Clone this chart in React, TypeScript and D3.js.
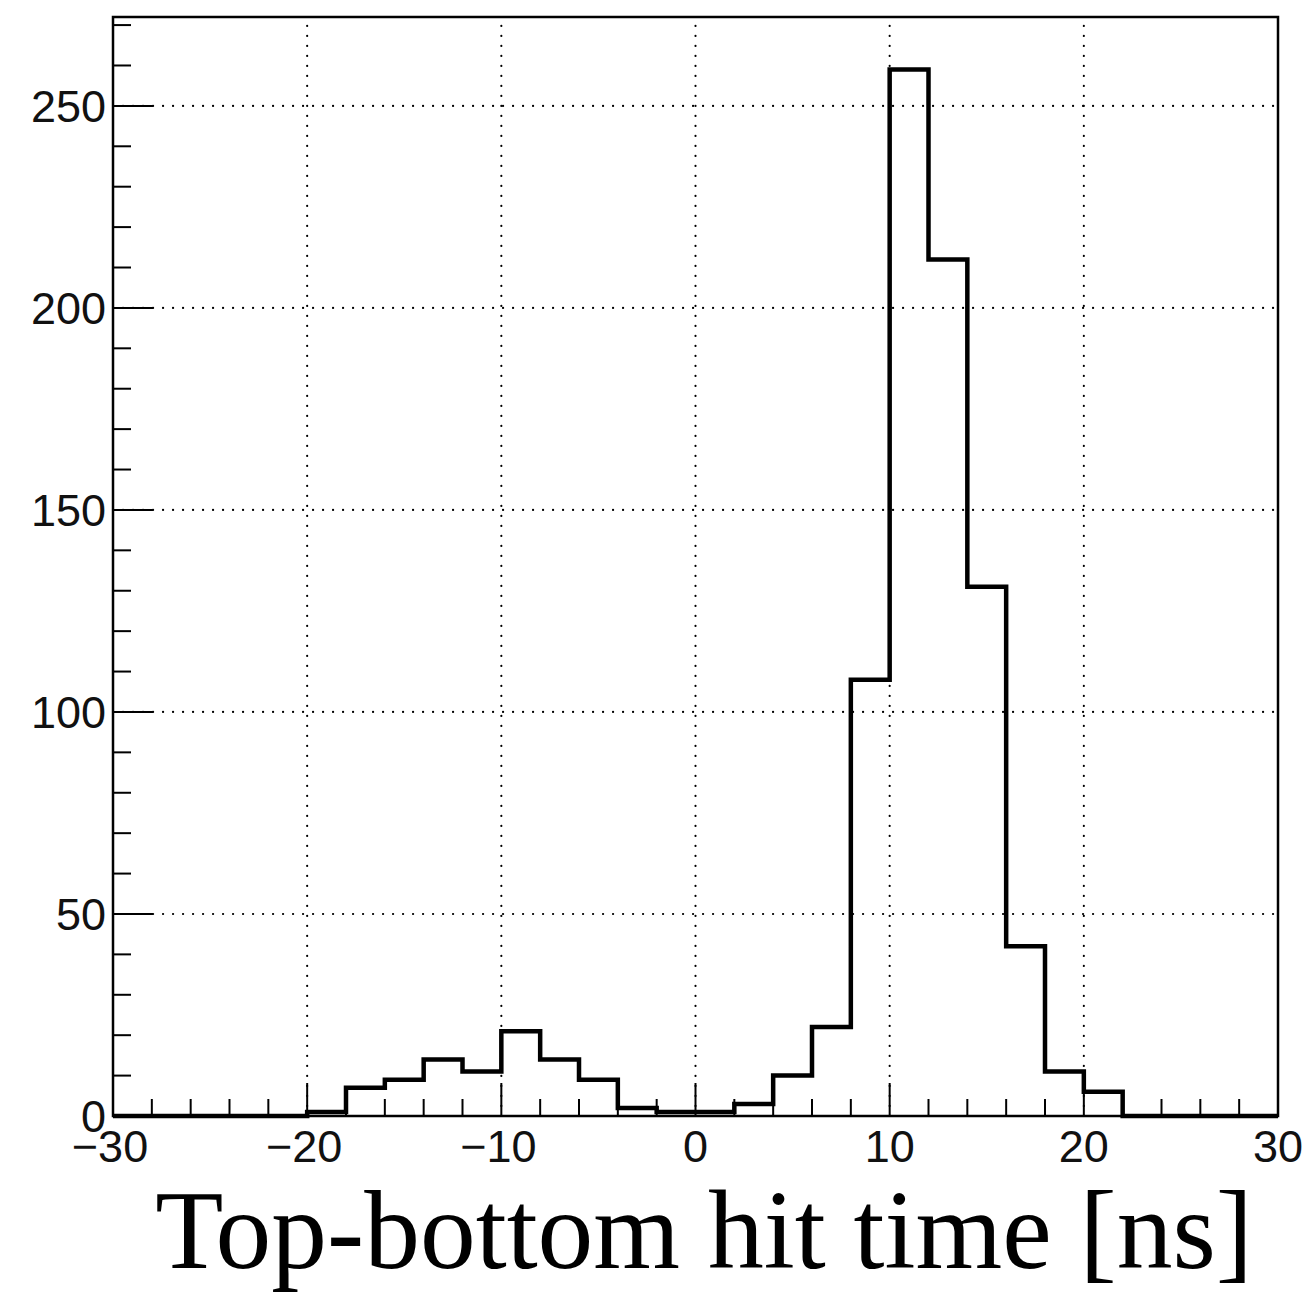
import React from "react";
import * as d3 from "d3";

const binEdgesLow: number[] = [
  -30, -28, -26, -24, -22, -20, -18, -16, -14, -12, -10, -8, -6, -4, -2,
  0, 2, 4, 6, 8, 10, 12, 14, 16, 18, 20, 22, 24, 26, 28,
];
const binCounts: number[] = [
  0, 0, 0, 0, 0, 1, 7, 9, 14, 11, 21, 14, 9, 2, 1,
  1, 3, 10, 22, 108, 259, 212, 131, 42, 11, 6, 0, 0, 0, 0,
];
const binWidth = 2;
const xMajorTicks: number[] = [-30, -20, -10, 0, 10, 20, 30];
const yMajorTicks: number[] = [0, 50, 100, 150, 200, 250];
const xAxisTitle = "Top-bottom hit time [ns]";

const W = 1303;
const H = 1300;
const left = 113;
const right = 1278;
const top = 17;
const bottom = 1116;

export default function App() {
  const x = d3.scaleLinear().domain([-30, 30]).range([left, right]);
  const y = d3.scaleLinear().domain([0, 272]).range([bottom, top]);

  const xMinor = d3.range(-30, 30.001, 2).filter((v) => !xMajorTicks.includes(v));
  const yMinor = d3.range(0, 272, 10).filter((v) => !yMajorTicks.includes(v));

  const pts: [number, number][] = [];
  pts.push([binEdgesLow[0], 0]);
  binEdgesLow.forEach((lo, i) => {
    pts.push([lo, binCounts[i]]);
    pts.push([lo + binWidth, binCounts[i]]);
  });
  pts.push([binEdgesLow[binEdgesLow.length - 1] + binWidth, 0]);
  const line = d3
    .line<[number, number]>()
    .x((d) => x(d[0]))
    .y((d) => y(d[1]));

  const fmt = (v: number) => (v < 0 ? "\u2212" + Math.abs(v) : String(v));
  const labelFont = "'Liberation Sans', Arial, Helvetica, sans-serif";

  return (
    <svg
      width={W}
      height={H}
      style={{ position: "absolute", left: 0, top: 0, background: "#fff" }}
    >
      <rect x={0} y={0} width={W} height={H} fill="#fff" />
      <g stroke="#000" strokeWidth={2.2} strokeDasharray="0.1 9.9" strokeLinecap="round">
        {xMajorTicks
          .filter((v) => v > -30 && v < 30)
          .map((v) => (
            <line key={"gx" + v} x1={x(v)} x2={x(v)} y1={bottom} y2={top} />
          ))}
        {yMajorTicks
          .filter((v) => v > 0)
          .map((v) => (
            <line key={"gy" + v} x1={left} x2={right} y1={y(v)} y2={y(v)} />
          ))}
      </g>
      <g stroke="#000" strokeWidth={2}>
        {yMajorTicks.map((v) => (
          <line key={"ym" + v} x1={left} x2={left + 40} y1={y(v)} y2={y(v)} />
        ))}
        {yMinor.map((v) => (
          <line key={"yn" + v} x1={left} x2={left + 18} y1={y(v)} y2={y(v)} />
        ))}
        {xMajorTicks.map((v) => (
          <line key={"xm" + v} x1={x(v)} x2={x(v)} y1={bottom} y2={bottom - 33} />
        ))}
        {xMinor.map((v) => (
          <line key={"xn" + v} x1={x(v)} x2={x(v)} y1={bottom} y2={bottom - 17} />
        ))}
      </g>
      <rect
        x={left}
        y={top}
        width={right - left}
        height={bottom - top}
        fill="none"
        stroke="#000"
        strokeWidth={2.5}
      />
      <path
        d={line(pts) || ""}
        fill="none"
        stroke="#000"
        strokeWidth={4.5}
        strokeLinejoin="miter"
      />
      <g fontFamily={labelFont} fontSize={45} fill="#111" textAnchor="end">
        {yMajorTicks.map((v) => (
          <text key={"yl" + v} x={left - 7} y={y(v)} dy="0.36em">
            {fmt(v)}
          </text>
        ))}
      </g>
      <g fontFamily={labelFont} fontSize={45} fill="#111" textAnchor="middle">
        {xMajorTicks.map((v) => (
          <text key={"xl" + v} x={x(v) - (v < 0 ? 3 : 0)} y={1162}>
            {fmt(v)}
          </text>
        ))}
      </g>
      <text
        x={1253}
        y={1268}
        textAnchor="end"
        fontFamily="'Liberation Serif', 'Times New Roman', Times, serif"
        fontSize={111.5}
        fill="#000"
      >
        {xAxisTitle}
      </text>
    </svg>
  );
}
